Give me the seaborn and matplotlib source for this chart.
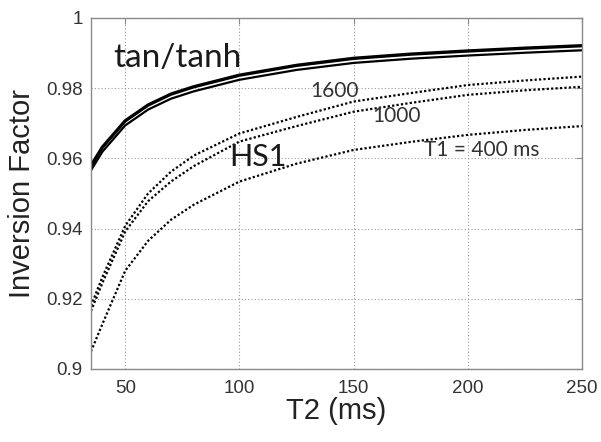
import matplotlib
matplotlib.use("Agg")
import matplotlib.pyplot as plt
import pandas as pd
import seaborn as sns
from matplotlib.ticker import FuncFormatter

# T2 grid (ms) and the inversion factor
t2 = [35, 40, 50, 60, 70, 80, 100, 125, 150, 175, 200, 225, 250]

# tan/tanh pulse is drawn as a double line (upper and lower trace)
tanh_upper = [0.9579, 0.9632, 0.9707, 0.9752, 0.9783, 0.9804, 0.9837, 0.9865, 0.9885, 0.9897, 0.9906, 0.9914, 0.9921]
tanh_lower = [0.9566, 0.9619, 0.9694, 0.9739, 0.9770, 0.9791, 0.9824, 0.9852, 0.9872, 0.9884, 0.9893, 0.9901, 0.9908]

# HS1 pulse for three T1 values
hs1_1600 = [0.9180, 0.9262, 0.9408, 0.9500, 0.9562, 0.9608, 0.9671, 0.9718, 0.9762, 0.9786, 0.9809, 0.9822, 0.9833]
hs1_1000 = [0.9165, 0.9245, 0.9392, 0.9478, 0.9534, 0.9578, 0.9648, 0.9692, 0.9733, 0.9758, 0.9781, 0.9794, 0.9804]
hs1_400 = [0.9050, 0.9128, 0.9280, 0.9365, 0.9425, 0.9468, 0.9534, 0.9585, 0.9624, 0.9647, 0.9667, 0.9681, 0.9692]

x_ticks = [50, 100, 150, 200, 250]
y_ticks = [0.9, 0.92, 0.94, 0.96, 0.98, 1.0]

df = pd.DataFrame({
    "T2": t2,
    "tanh_upper": tanh_upper,
    "tanh_lower": tanh_lower,
    "hs1_1600": hs1_1600,
    "hs1_1000": hs1_1000,
    "hs1_400": hs1_400,
})

sns.set_theme(style="white")
plt.rcParams["font.family"] = ["Liberation Sans", "DejaVu Sans"]

fig = plt.figure(figsize=(6.01, 4.42), dpi=100)
ax = fig.add_axes([0.1514, 0.1652, 0.8170, 0.7941])

# solid double trace for tan/tanh
sns.lineplot(data=df, x="T2", y="tanh_upper", ax=ax, color="black", lw=2.4)
sns.lineplot(data=df, x="T2", y="tanh_lower", ax=ax, color="black", lw=1.6)

# dotted HS1 curves
for col in ["hs1_1600", "hs1_1000", "hs1_400"]:
    sns.lineplot(data=df, x="T2", y=col, ax=ax, color="black", lw=1.6,
                 linestyle=(0, (1, 1)))

ax.set_xlim(35, 250)
ax.set_ylim(0.9, 1.0)
ax.set_xticks(x_ticks)
ax.set_yticks(y_ticks)
ax.yaxis.set_major_formatter(FuncFormatter(lambda v, _: f"{v:g}"))

ax.grid(True, color="#9a9a9a", lw=0.8, linestyle=(0, (1, 2)))
for sp in ax.spines.values():
    sp.set_color("#8a8a8a")
    sp.set_linewidth(1.0)
ax.tick_params(direction="in", length=4, width=0.8, color="#8a8a8a",
               top=True, right=True, labelsize=13.5, labelcolor="#333333")
ax.tick_params(axis="x", pad=8)
ax.tick_params(axis="y", pad=6)

ax.set_xlabel("T2 (ms)", fontsize=21, color="#222222", labelpad=0)
ax.set_ylabel("Inversion Factor", fontsize=21, color="#222222", labelpad=7)

lab = ["Lato", "DejaVu Sans"]
ax.text(44.8, 0.9885, "tan/tanh", family=lab, fontsize=24, color="#1a1a1a", va="center")
ax.text(95.4, 0.9603, "HS1", family=lab, fontsize=22, color="#1a1a1a", va="center")
ax.text(131, 0.9793, "1600", family=lab, fontsize=15, color="#333333", va="center")
ax.text(158.3, 0.9720, "1000", family=lab, fontsize=15, color="#333333", va="center")
ax.text(181, 0.9624, "T1 = 400 ms", family=lab, fontsize=15, color="#333333", va="center")

fig.savefig("out.png", dpi=100)
